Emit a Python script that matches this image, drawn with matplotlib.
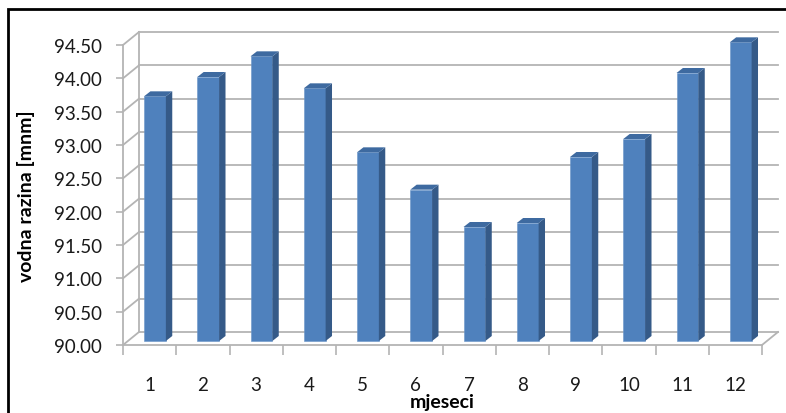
import numpy as np
import matplotlib
matplotlib.use("Agg")
import matplotlib.pyplot as plt
from matplotlib.patches import Polygon, Rectangle

# mjesecni vodostaj
months = [1, 2, 3, 4, 5, 6, 7, 8, 9, 10, 11, 12]
levels = [93.67, 93.96, 94.27, 93.79, 92.83, 92.27, 91.71, 91.77, 92.76, 93.03, 94.02, 94.48]
yticks = [90.00, 90.50, 91.00, 91.50, 92.00, 92.50, 93.00, 93.50, 94.00, 94.50]

plt.rcParams['font.family'] = ['Lato', 'DejaVu Sans']

fig = plt.figure(figsize=(7.86, 4.14), dpi=100)
ax = fig.add_axes([123/786, 1-346/414, 639/786, 300/414])
ax.set_xlim(0.5, 12.5)
ax.set_ylim(90, 94.5)
for s in ax.spines.values():
    s.set_visible(False)

# "3d" pomaci (u jedinicama podataka)
bx, by = 0.30, 0.195      # straznji zid
fx, fy = 0.10, 0.06       # prednja ploha stupca
dx, dy = 0.12, 0.075      # dubina stupca
w = 0.41
grid_c = '#b4b4b4'

# straznji zid + lijevi zid
for v in yticks:
    ax.plot([0.5 + bx, 12.5 + bx], [v + by, v + by], color=grid_c, lw=1.3, clip_on=False, zorder=1)
    ax.plot([0.5, 0.5 + bx], [v, v + by], color=grid_c, lw=1.3, clip_on=False, zorder=1)
ax.plot([0.5, 0.5], [90, 94.5], color=grid_c, lw=1.3, clip_on=False, zorder=1)
ax.plot([0.5 + bx, 0.5 + bx], [90 + by, 94.5 + by], color=grid_c, lw=1.3, clip_on=False, zorder=1)
# pod
ax.plot([0.5, 12.5], [90, 90], color=grid_c, lw=1.3, clip_on=False, zorder=1)
ax.plot([12.5, 12.5 + bx], [90, 90 + by], color=grid_c, lw=1.3, clip_on=False, zorder=1)

x = np.array(months, dtype=float)
vals = np.array(levels)
base = 90 + fy
ax.bar(x + fx, vals - 90, bottom=base, width=w, color='#4f81bd',
       edgecolor='#6a95c8', linewidth=0.4, zorder=3, clip_on=False)
for xi, v in zip(x + fx, vals):
    xl, xr = xi - w/2, xi + w/2
    top = v + fy
    side = Polygon([(xr, base), (xr + dx, base + dy), (xr + dx, top + dy), (xr, top)],
                   closed=True, facecolor='#355a88', edgecolor='none', zorder=3, clip_on=False)
    cap = Polygon([(xl, top), (xl + dx, top + dy), (xr + dx, top + dy), (xr, top)],
                  closed=True, facecolor='#3e6aa0', edgecolor='none', zorder=3, clip_on=False)
    ax.add_patch(side)
    ax.add_patch(cap)

ax.set_yticks(yticks)
ax.set_yticklabels(['%.2f' % t for t in yticks])
ax.tick_params(axis='y', length=5, width=1.2, color=grid_c, pad=10,
               labelsize=13.5, labelcolor='#1a1a1a')

ax.set_xticks(np.arange(0.5, 13, 1))
ax.set_xticklabels([])
ax.set_xticks(x, minor=True)
ax.set_xticklabels([str(m) for m in months], minor=True)
ax.tick_params(axis='x', which='major', length=7, width=1.2, color=grid_c)
ax.tick_params(axis='x', which='minor', length=0, pad=22, labelsize=13.5, labelcolor='#1a1a1a')

ax.set_ylabel('vodna razina [mnm]', fontsize=14, fontweight='bold', labelpad=14)
fig.text(442/786, 1-403/414, 'mjeseci', ha='center', va='center',
         fontsize=14, fontweight='bold')

# okvir
fig.patches.append(Rectangle((8/786, -0.1), 1.2, 1-10/414+0.1, transform=fig.transFigure,
                             fill=False, edgecolor='black', linewidth=2))

fig.savefig('out.png', dpi=100)
